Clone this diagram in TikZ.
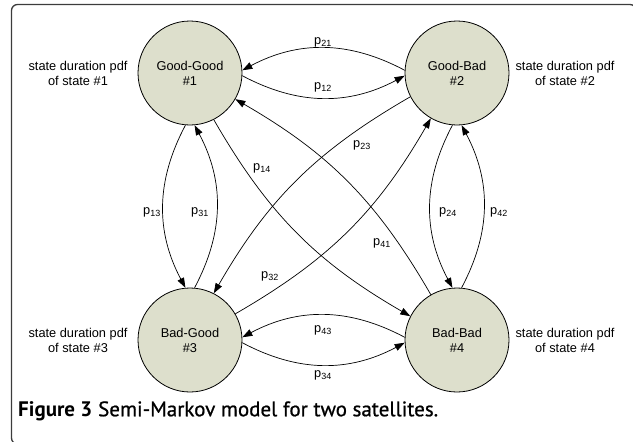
\documentclass[tikz,border=0pt]{standalone}
\usepackage{fontspec}
\setmainfont{Liberation Sans}
\newfontfamily\capfont{PT Sans}
\newfontfamily\capsemi[FakeBold=0.8]{PT Sans}
\usetikzlibrary{arrows.meta}
\definecolor{stfill}{RGB}{221,223,204}
\definecolor{framegray}{RGB}{60,60,60}

\begin{document}
\begin{tikzpicture}[x=1pt,y=-1pt,
  state/.style={circle,draw,fill=stfill,line width=0.8pt,minimum size=104pt,inner sep=0pt,align=center,font=\fontsize{12.8}{15}\selectfont},
  note/.style={align=center,font=\fontsize{12.8}{15}\selectfont},
  lbl/.style={inner sep=0pt,font=\fontsize{12.8}{15}\selectfont},
  trans/.style={-{Triangle[length=10pt,width=7pt]},line width=0.7pt}]
\useasboundingbox (0,0) rectangle (633,442);
\draw[framegray,line width=1.3pt,rounded corners=6pt] (11.5,4.5) rectangle (636,444);
% states
\node[state] (gg) at (190,73) {Good-Good\\\#1};
\node[state] (gb) at (457,73) {Good-Bad\\\#2};
\node[state] (bg) at (190,340) {Bad-Good\\\#3};
\node[state] (bb) at (457,340) {Bad-Bad\\\#4};
% state duration pdf
\node[note] (pdf1) at (78,73) {state duration pdf\\of state \#1};
\node[note] (pdf2) at (565,73) {state duration pdf\\of state \#2};
\node[note] (pdf3) at (78,340) {state duration pdf\\of state \#3};
\node[note] (pdf4) at (565,340) {state duration pdf\\of state \#4};
% transitions
\draw[trans] (gg.-3) to[bend right=28] (gb.183);
\draw[trans] (gb.177) to[bend right=28] (gg.3);
\draw[trans] (gg.265) to[bend right=28] (bg.95);
\draw[trans] (bg.85) to[bend right=28] (gg.275);
\draw[trans] (gb.265) to[bend right=28] (bb.95);
\draw[trans] (bb.85) to[bend right=28] (gb.275);
\draw[trans] (bg.-3) to[bend right=28] (bb.183);
\draw[trans] (bb.177) to[bend right=28] (bg.3);
\draw[trans] (gg.-63) to[bend right=15] (bb.153);
\draw[trans] (bb.120) to[bend right=15] (gg.-30);
\draw[trans] (gb.207) to[bend right=15] (bg.63);
\draw[trans] (bg.30) to[bend right=15] (gb.240);
% labels
\node[lbl] (l21) at (323,42) {p\textsubscript{21}};
\node[lbl] (l12) at (323,87) {p\textsubscript{12}};
\node[lbl] (l43) at (323,330) {p\textsubscript{43}};
\node[lbl] (l34) at (323,375) {p\textsubscript{34}};
\node[lbl] (l13) at (152,212) {p\textsubscript{13}};
\node[lbl] (l31) at (200,212) {p\textsubscript{31}};
\node[lbl] (l24) at (448,212) {p\textsubscript{24}};
\node[lbl] (l42) at (499,212) {p\textsubscript{42}};
\node[lbl] (l14) at (262,168) {p\textsubscript{14}};
\node[lbl] (l23) at (362,145) {p\textsubscript{23}};
\node[lbl] (l41) at (382,243) {p\textsubscript{41}};
\node[lbl] (l32) at (270,276) {p\textsubscript{32}};
% caption
\node[anchor=west,inner sep=0pt,font=\fontsize{21}{24}\selectfont] (cap) at (18,411)
  {{\capfont\bfseries Figure 3} \capsemi Semi-Markov model for two satellites.};
\end{tikzpicture}
\end{document}
